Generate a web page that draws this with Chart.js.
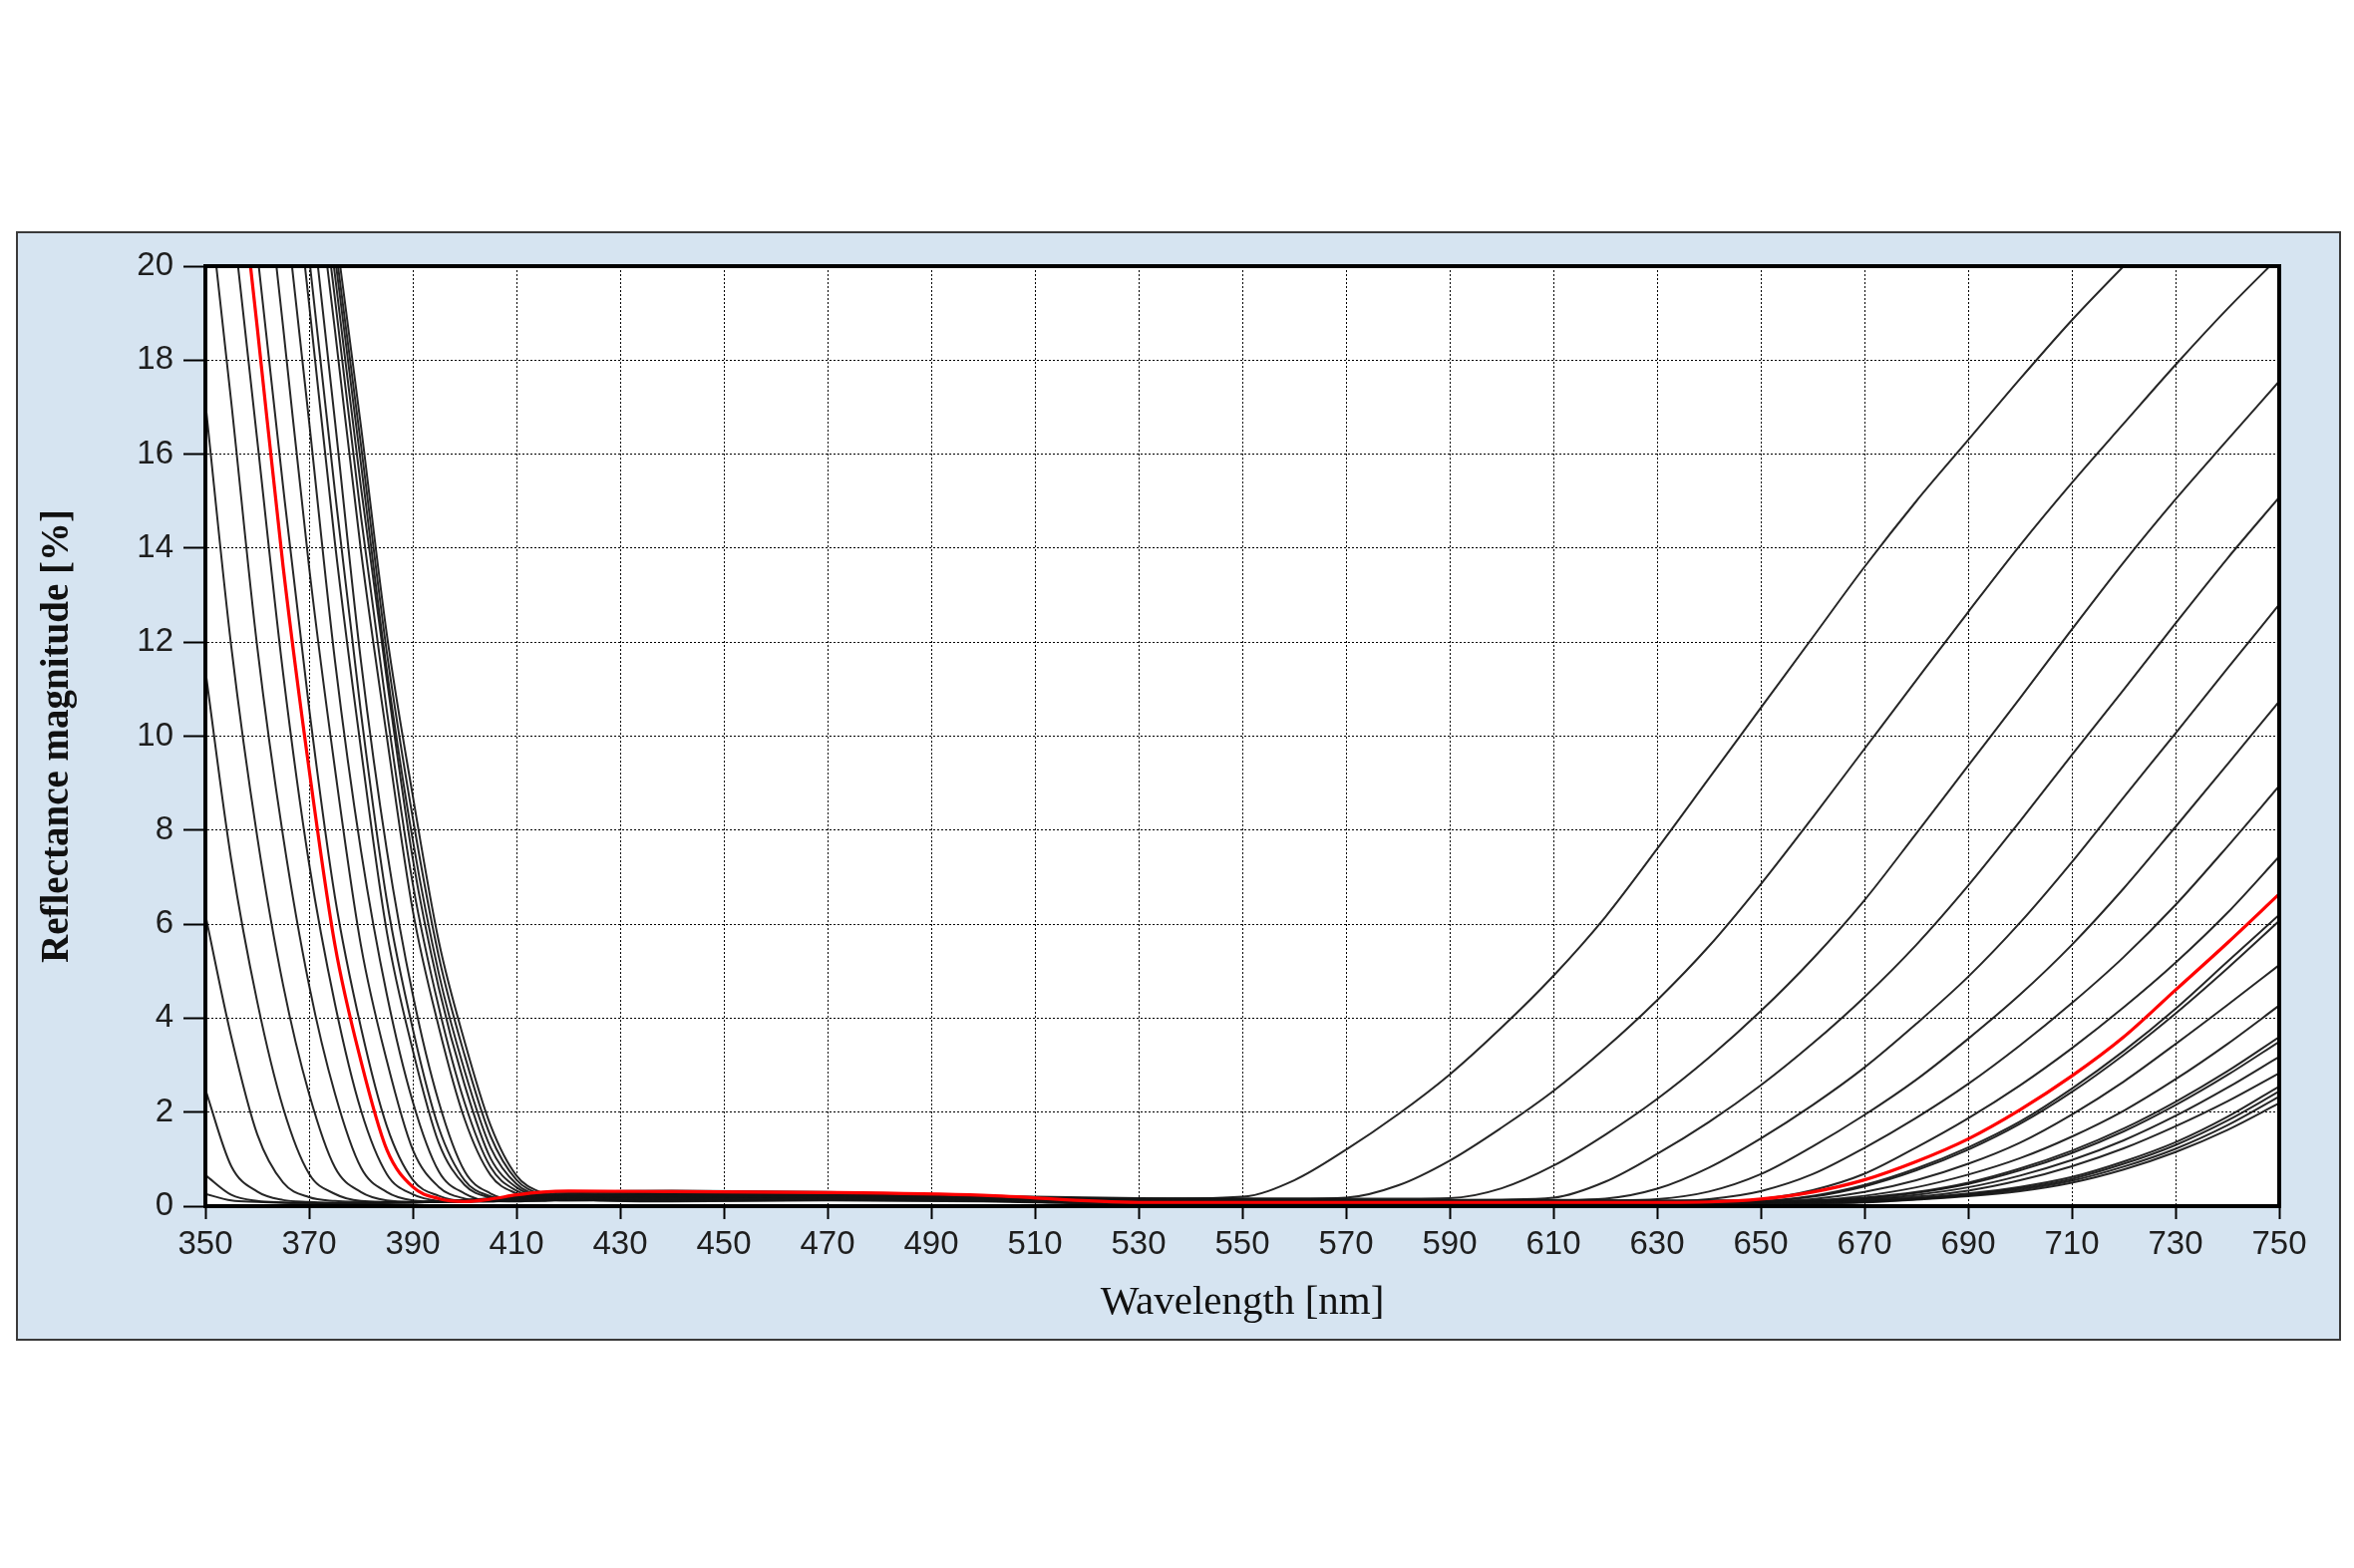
<!DOCTYPE html>
<html>
<head>
<meta charset="utf-8">
<script src="https://cdn.jsdelivr.net/npm/chart.js@4.4.1/dist/chart.umd.min.js"></script>
<style>
  html, body { margin: 0; padding: 0; background: #ffffff; }
  body { width: 2361px; height: 1573px; position: relative; overflow: hidden; }
  #panel { position: absolute; left: 16px; top: 232px; width: 2332px; height: 1113px;
           box-sizing: border-box; border: 2px solid #3a3a3a; background: #d6e4f1; }
  #wrap { position: absolute; left: 18px; top: 234px; width: 2328px; height: 1109px; }
</style>
</head>
<body>
<div id="panel"></div>
<div id="wrap"><canvas id="reflChart" width="2328" height="1109"></canvas></div>
<script>
// wavelength grid [nm]
const wavelengths = [350,355,360,365,370,375,380,385,390,395,400,405,410,415,420,440,470,500,530,
                     550,560,570,580,590,600,610,620,630,640,650,660,670,680,690,700,710,720,730,740,750];

// reflectance [%] of each design variant
const redCurve = [28.7,23.7,18.7,13.6,9.3,5.55,3.09,1.2,0.41,0.16,0.10,0.15,0.24,0.30,0.32,0.31,0.29,0.23,0.08,
                  0.08,0.08,0.08,0.08,0.08,0.08,0.08,0.08,0.08,0.09,0.15,0.3,0.56,0.95,1.43,2.05,2.77,3.6,4.6,5.6,6.64];

const curve01 = [0.26,0.12,0.09,0.07,0.06,0.06,0.06,0.07,0.08,0.10,0.12,0.15,0.18,0.20,0.21,0.22,0.20,0.17,0.15,
                 0.20,0.55,1.20,1.95,2.80,3.80,4.90,6.15,7.60,9.10,10.6,12.1,13.6,15.0,16.3,17.6,18.85,20.0,21.1,22.2,23.2];
const curve02 = [0.66,0.24,0.11,0.08,0.07,0.06,0.06,0.07,0.08,0.10,0.13,0.16,0.20,0.22,0.23,0.25,0.24,0.20,0.16,
                 0.16,0.16,0.18,0.44,0.97,1.67,2.45,3.36,4.38,5.53,6.85,8.27,9.73,11.19,12.64,14.06,15.39,16.65,17.9,19.09,20.2];
const curve03 = [2.48,0.85,0.31,0.13,0.09,0.07,0.06,0.07,0.08,0.10,0.13,0.17,0.21,0.24,0.25,0.28,0.27,0.22,0.17,
                 0.16,0.16,0.16,0.16,0.17,0.38,0.86,1.52,2.28,3.16,4.15,5.26,6.51,7.93,9.37,10.81,12.27,13.7,15.04,16.3,17.55];
const curve04 = [6.2,3.6,1.53,0.5,0.19,0.11,0.09,0.08,0.08,0.10,0.12,0.15,0.19,0.22,0.22,0.25,0.25,0.20,0.14,
                 0.13,0.13,0.13,0.13,0.13,0.14,0.18,0.52,1.11,1.79,2.57,3.46,4.45,5.56,6.82,8.19,9.6,10.99,12.4,13.78,15.08];
const curve05 = [11.4,7.36,4.35,2.09,0.69,0.26,0.11,0.09,0.08,0.09,0.11,0.14,0.18,0.20,0.20,0.22,0.23,0.20,0.13,
                 0.12,0.12,0.12,0.12,0.12,0.12,0.13,0.16,0.37,0.82,1.44,2.15,2.95,3.88,4.88,6.03,7.32,8.7,10.06,11.44,12.8];
const curve06 = [17.1,11.9,7.86,4.7,2.39,0.82,0.30,0.12,0.09,0.09,0.10,0.13,0.16,0.18,0.19,0.20,0.22,0.20,0.12,
                 0.11,0.11,0.11,0.11,0.11,0.11,0.11,0.12,0.15,0.31,0.68,1.27,1.94,2.69,3.56,4.5,5.56,6.76,8.07,9.4,10.74];
const curve07 = [22.1,17.1,11.9,7.86,4.7,2.39,0.82,0.30,0.12,0.09,0.10,0.12,0.15,0.16,0.17,0.19,0.20,0.19,0.11,
                 0.10,0.10,0.10,0.10,0.10,0.10,0.10,0.10,0.10,0.15,0.32,0.68,1.24,1.88,2.6,3.42,4.32,5.3,6.41,7.65,8.94];
const curve08 = [26.3,21.3,16.3,11.33,7.29,4.3,2.04,0.68,0.25,0.11,0.09,0.10,0.13,0.15,0.16,0.17,0.18,0.18,0.10,
                 0.09,0.09,0.09,0.09,0.09,0.09,0.09,0.09,0.09,0.09,0.15,0.34,0.69,1.25,1.87,2.57,3.36,4.23,5.18,6.24,7.44];
const curve09 = [30.3,25.3,20.3,15.3,10.6,6.57,3.8,1.7,0.56,0.22,0.11,0.12,0.18,0.25,0.29,0.33,0.30,0.22,0.12,
                 0.12,0.12,0.12,0.12,0.12,0.12,0.12,0.12,0.12,0.12,0.12,0.22,0.45,0.8,1.25,1.8,2.5,3.3,4.2,5.2,6.2];
const curve10 = [33.7,28.7,23.7,18.7,13.6,9.3,5.55,3.09,1.2,0.41,0.16,0.10,0.14,0.20,0.26,0.30,0.28,0.20,0.11,
                 0.11,0.11,0.11,0.11,0.11,0.11,0.11,0.11,0.11,0.11,0.11,0.2,0.42,0.76,1.2,1.75,2.43,3.22,4.1,5.06,6.07];
const curve11 = [36.7,31.7,26.7,21.7,16.7,11.6,7.57,4.5,2.22,0.74,0.27,0.11,0.10,0.14,0.20,0.26,0.26,0.19,0.10,
                 0.10,0.10,0.10,0.10,0.10,0.10,0.10,0.10,0.10,0.10,0.10,0.15,0.3,0.55,0.9,1.35,1.95,2.65,3.45,4.28,5.13];
const curve12 = [39.2,34.2,29.2,24.2,19.2,14.1,9.73,5.83,3.32,1.35,0.45,0.18,0.11,0.12,0.17,0.24,0.25,0.18,0.10,
                 0.10,0.10,0.10,0.10,0.10,0.10,0.10,0.10,0.10,0.10,0.10,0.12,0.22,0.4,0.67,1.02,1.48,2.03,2.7,3.45,4.27];
const curve13 = [40.2,35.2,30.2,25.2,20.2,15.2,10.5,6.5,3.77,1.67,0.55,0.21,0.12,0.11,0.15,0.22,0.24,0.17,0.09,
                 0.09,0.09,0.09,0.09,0.09,0.09,0.09,0.09,0.09,0.09,0.09,0.11,0.18,0.3,0.5,0.8,1.18,1.65,2.22,2.87,3.6];
const curve14 = [41.7,36.7,31.7,26.7,21.7,16.7,11.6,7.57,4.5,2.22,0.74,0.27,0.13,0.12,0.14,0.20,0.22,0.16,0.09,
                 0.09,0.09,0.09,0.09,0.09,0.09,0.09,0.09,0.09,0.09,0.09,0.11,0.17,0.28,0.47,0.76,1.13,1.59,2.15,2.79,3.5];
const curve15 = [41.5,36.9,32.4,27.8,23.2,18.63,13.95,9.98,6.29,3.82,1.85,0.66,0.27,0.14,0.12,0.16,0.20,0.15,0.08,
                 0.08,0.08,0.08,0.08,0.08,0.08,0.08,0.08,0.08,0.08,0.08,0.1,0.15,0.24,0.4,0.65,0.98,1.4,1.92,2.52,3.18];
const curve16 = [41.9,37.4,32.85,28.3,23.8,19.3,14.68,10.54,6.86,4.24,2.2,0.83,0.33,0.15,0.12,0.14,0.18,0.14,0.07,
                 0.07,0.07,0.07,0.07,0.07,0.07,0.07,0.07,0.07,0.07,0.07,0.09,0.13,0.2,0.33,0.55,0.85,1.23,1.7,2.23,2.83];
const curve17 = [42.1,37.6,33.2,28.7,24.3,19.8,15.3,11.2,7.39,4.65,2.58,1.02,0.40,0.18,0.13,0.13,0.16,0.13,0.07,
                 0.07,0.07,0.07,0.07,0.07,0.07,0.07,0.07,0.07,0.07,0.07,0.08,0.11,0.17,0.27,0.41,0.62,0.95,1.36,1.9,2.55];
const curve18 = [42.1,37.7,33.3,29.0,24.6,20.2,15.8,11.4,7.79,4.96,2.88,1.25,0.47,0.21,0.14,0.12,0.15,0.12,0.06,
                 0.06,0.06,0.06,0.06,0.06,0.06,0.06,0.06,0.06,0.06,0.06,0.07,0.1,0.16,0.25,0.38,0.58,0.9,1.3,1.82,2.44];
const curve19 = [42.1,37.8,33.45,29.1,24.8,20.5,16.2,11.78,8.26,5.32,3.21,1.49,0.56,0.24,0.15,0.11,0.13,0.11,0.05,
                 0.05,0.05,0.05,0.05,0.05,0.05,0.05,0.05,0.05,0.05,0.05,0.06,0.09,0.15,0.23,0.35,0.54,0.84,1.22,1.72,2.33];
const curve20 = [42.1,37.9,33.6,29.35,25.1,20.85,16.6,12.16,8.73,5.64,3.5,1.72,0.65,0.28,0.16,0.10,0.12,0.10,0.04,
                 0.04,0.04,0.04,0.04,0.04,0.04,0.04,0.04,0.04,0.04,0.04,0.05,0.08,0.14,0.21,0.32,0.5,0.78,1.15,1.62,2.19];

const blackCurves = [curve01, curve02, curve03, curve04, curve05, curve06, curve07, curve08, curve09, curve10,
                     curve11, curve12, curve13, curve14, curve15, curve16, curve17, curve18, curve19, curve20];

function toPoints(values) {
    return values.map((v, i) => ({ x: wavelengths[i], y: v }));
}

function lineSet(values, color, width) {
    return {
        data: toPoints(values),
        borderColor: color,
        borderWidth: width,
        pointRadius: 0,
        fill: false,
        cubicInterpolationMode: 'monotone'
    };
}

// red first so it is painted on top
const datasets = [lineSet(redCurve, '#ff0000', 3.2)];
blackCurves.forEach(c => datasets.push(lineSet(c, 'rgba(20,20,20,0.92)', 2)));

// white plot area and thick frame round it
const plotFrame = {
    id: 'plotFrame',
    beforeDraw(chart) {
        const a = chart.chartArea;
        const ctx = chart.ctx;
        ctx.save();
        ctx.fillStyle = '#ffffff';
        ctx.fillRect(a.left, a.top, a.right - a.left, a.bottom - a.top);
        ctx.restore();
    },
    afterDraw(chart) {
        const a = chart.chartArea;
        const ctx = chart.ctx;
        ctx.save();
        ctx.strokeStyle = '#000000';
        ctx.lineWidth = 4;
        ctx.strokeRect(a.left, a.top, a.right - a.left, a.bottom - a.top);
        ctx.restore();
    }
};

const tickFont = { family: "'Liberation Sans', Arial, sans-serif", size: 33 };

const ctx = document.getElementById('reflChart').getContext('2d');

let reflChart = new Chart(ctx, {
    type: 'line',
    data: { datasets: datasets },
    plugins: [plotFrame],
    options: {
        responsive: false,
        animation: false,
        devicePixelRatio: 1,
        layout: { padding: { left: 0, top: 33, right: 60, bottom: 0 } },
        plugins: {
            legend: { display: false },
            tooltip: { enabled: false }
        },
        scales: {
            x: {
                type: 'linear',
                min: 350,
                max: 750,
                afterFit: (scale) => { scale.height = 133; },
                ticks: { stepSize: 20, autoSkip: false, maxRotation: 0, font: tickFont, color: '#1e1e1e', padding: 6 },
                grid: { color: '#000000', lineWidth: 1, tickLength: 13, tickColor: '#000000', tickWidth: 2, tickBorderDash: [] },
                border: { display: true, color: '#000000', width: 4, dash: [2, 2] },
                title: {
                    display: true,
                    text: 'Wavelength [nm]',
                    color: '#111111',
                    font: { family: "'Liberation Serif', 'Times New Roman', serif", size: 41 },
                    padding: { top: 0, bottom: 11 }
                }
            },
            y: {
                min: 0,
                max: 20,
                afterFit: (scale) => { scale.width = 188; },
                ticks: { stepSize: 2, font: tickFont, color: '#1e1e1e', padding: 10 },
                grid: { color: '#000000', lineWidth: 1, tickLength: 22, tickColor: '#000000', tickWidth: 2, tickBorderDash: [] },
                border: { display: true, color: '#000000', width: 4, dash: [2, 2] },
                title: {
                    display: true,
                    text: 'Reflectance magnitude [%]',
                    color: '#111111',
                    font: { family: "'Liberation Serif', 'Times New Roman', serif", size: 39, weight: 'bold' },
                    padding: { top: 17, bottom: 0 }
                }
            }
        }
    }
});
</script>
</body>
</html>
